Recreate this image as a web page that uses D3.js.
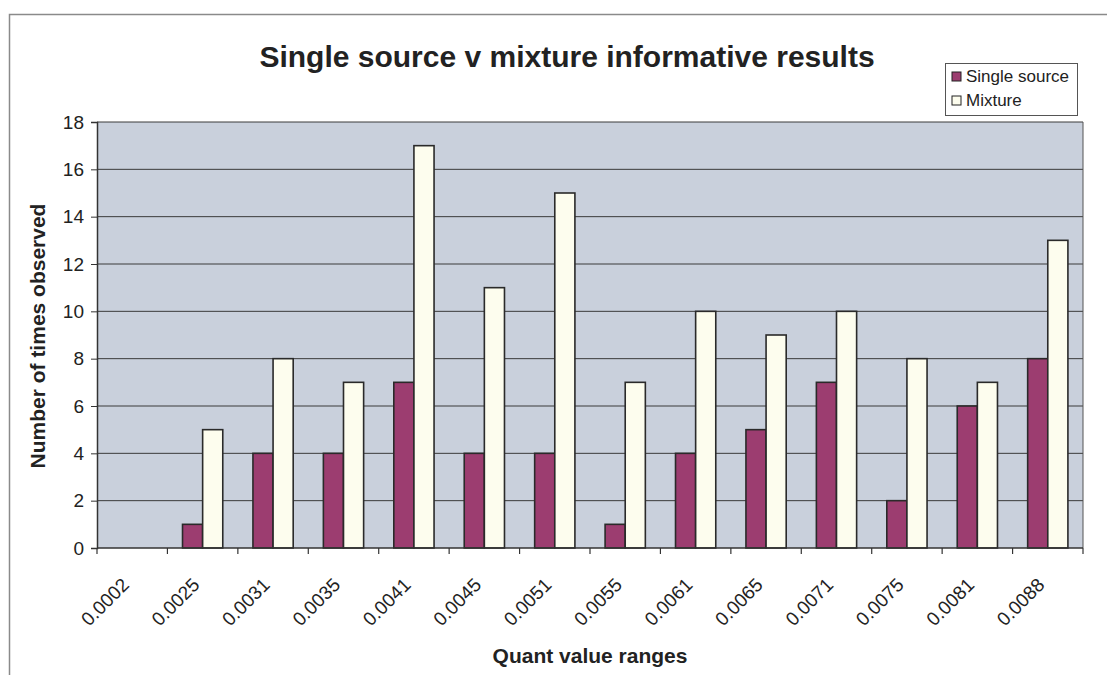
<!DOCTYPE html>
<html>
<head>
<meta charset="utf-8">
<script src="https://cdn.jsdelivr.net/npm/d3@7"></script>
<style>
  html, body { margin: 0; padding: 0; background: #ffffff; }
  svg { display: block; font-family: Arial, "Liberation Sans", sans-serif; }
</style>
</head>
<body>
<svg id="chart" width="1107" height="675"></svg>
<script>
// Quant value ranges (category labels)
const categories = ["0.0002", "0.0025", "0.0031", "0.0035", "0.0041", "0.0045", "0.0051",
                    "0.0055", "0.0061", "0.0065", "0.0071", "0.0075", "0.0081", "0.0088"];
// Number of times observed per range
const singleSource = [0, 1, 4, 4, 7, 4, 4, 1, 4, 5, 7, 2, 6, 8];
const mixture      = [0, 5, 8, 7, 17, 11, 15, 7, 10, 9, 10, 8, 7, 13];
const seriesNames  = ["Single source", "Mixture"];
const yTicks = [0, 2, 4, 6, 8, 10, 12, 14, 16, 18];

const colors = { "Single source": "#9c3d70", "Mixture": "#fdfdee" };

const svg = d3.select("#chart");
const plot = { left: 97, right: 1083, top: 122, bottom: 548 };

// Outer chart frame
svg.append("rect")
  .attr("x", 9.5).attr("y", 14.5)
  .attr("width", 1120).attr("height", 700)
  .attr("fill", "none").attr("stroke", "#8a8a8a").attr("stroke-width", 1.5);

const x = d3.scaleBand().domain(categories).range([plot.left, plot.right]).paddingInner(0).paddingOuter(0);
const y = d3.scaleLinear().domain([0, 18]).range([plot.bottom, plot.top]);

// Bars within a category: gap width 150% of a bar
const barW = x.bandwidth() / 3.5;
const xs = d3.scaleBand().domain(seriesNames)
  .range([x.bandwidth() / 2 - barW, x.bandwidth() / 2 + barW]).padding(0);

// Plot area background
svg.append("rect")
  .attr("x", plot.left).attr("y", plot.top)
  .attr("width", plot.right - plot.left).attr("height", plot.bottom - plot.top)
  .attr("fill", "#c9d0dc");

// Horizontal gridlines
svg.append("g").selectAll("line").data(yTicks.filter(d => d > 0)).join("line")
  .attr("x1", plot.left).attr("x2", plot.right)
  .attr("y1", d => y(d)).attr("y2", d => y(d))
  .attr("stroke", "#3a3a3a").attr("stroke-width", 1);

// Right edge of plot area
svg.append("line")
  .attr("x1", plot.right).attr("x2", plot.right)
  .attr("y1", plot.top).attr("y2", plot.bottom)
  .attr("stroke", "#555").attr("stroke-width", 1);

// Bars
const rows = categories.map((c, i) => ({ cat: c, values: [
  { key: "Single source", v: singleSource[i] },
  { key: "Mixture", v: mixture[i] }
]}));

const groups = svg.append("g").selectAll("g").data(rows).join("g")
  .attr("transform", d => `translate(${x(d.cat)},0)`);

groups.selectAll("rect").data(d => d.values.filter(e => e.v > 0)).join("rect")
  .attr("x", d => xs(d.key))
  .attr("width", xs.bandwidth())
  .attr("y", d => y(d.v))
  .attr("height", d => y(0) - y(d.v))
  .attr("fill", d => colors[d.key])
  .attr("stroke", "#2a2a2a").attr("stroke-width", 1.6);

// Y axis
const yAxis = svg.append("g")
  .attr("transform", `translate(${plot.left},0)`)
  .call(d3.axisLeft(y).tickValues(yTicks).tickSize(6).tickPadding(7).tickFormat(d3.format("d")));
yAxis.select(".domain").attr("stroke", "#333").attr("stroke-width", 1.5);
yAxis.selectAll(".tick line").attr("stroke", "#333");
yAxis.selectAll("text").attr("font-size", 19).attr("fill", "#222");

// X axis: ticks between categories
const xAxisG = svg.append("g").attr("transform", `translate(0,${plot.bottom})`);
xAxisG.append("line")
  .attr("x1", plot.left).attr("x2", plot.right)
  .attr("stroke", "#333").attr("stroke-width", 1.5);
const boundaries = categories.map(c => x(c)).concat([plot.right]);
xAxisG.selectAll("line.tk").data(boundaries).join("line")
  .attr("class", "tk")
  .attr("x1", d => d).attr("x2", d => d)
  .attr("y1", 0).attr("y2", 6)
  .attr("stroke", "#333").attr("stroke-width", 1.2);
xAxisG.selectAll("text").data(categories).join("text")
  .attr("transform", d => `translate(${x(d) + x.bandwidth() / 2 - 2},${38}) rotate(-45)`)
  .attr("text-anchor", "end")
  .attr("font-size", 19)
  .attr("fill", "#222")
  .text(d => d);

// Title
svg.append("text")
  .attr("x", 567).attr("y", 67)
  .attr("text-anchor", "middle")
  .attr("font-size", 30).attr("font-weight", "bold").attr("fill", "#222")
  .text("Single source v mixture informative results");

// Axis titles
svg.append("text")
  .attr("x", 590).attr("y", 663)
  .attr("text-anchor", "middle")
  .attr("font-size", 21).attr("font-weight", "bold").attr("fill", "#222")
  .text("Quant value ranges");

svg.append("text")
  .attr("transform", "translate(45,336) rotate(-90)")
  .attr("text-anchor", "middle")
  .attr("font-size", 21).attr("font-weight", "bold").attr("fill", "#222")
  .text("Number of times observed");

// Legend
const legend = svg.append("g").attr("transform", "translate(945,63)");
legend.append("rect")
  .attr("x", 0.5).attr("y", 0.5).attr("width", 132).attr("height", 52)
  .attr("fill", "#ffffff").attr("stroke", "#555").attr("stroke-width", 1);
seriesNames.forEach((name, i) => {
  const g = legend.append("g").attr("transform", `translate(7,${9 + i * 24})`);
  g.append("rect").attr("width", 9).attr("height", 9)
    .attr("fill", colors[name]).attr("stroke", "#222").attr("stroke-width", 1);
  g.append("text").attr("x", 14).attr("y", 10)
    .attr("font-size", 17).attr("fill", "#222").text(name);
});
</script>
</body>
</html>
